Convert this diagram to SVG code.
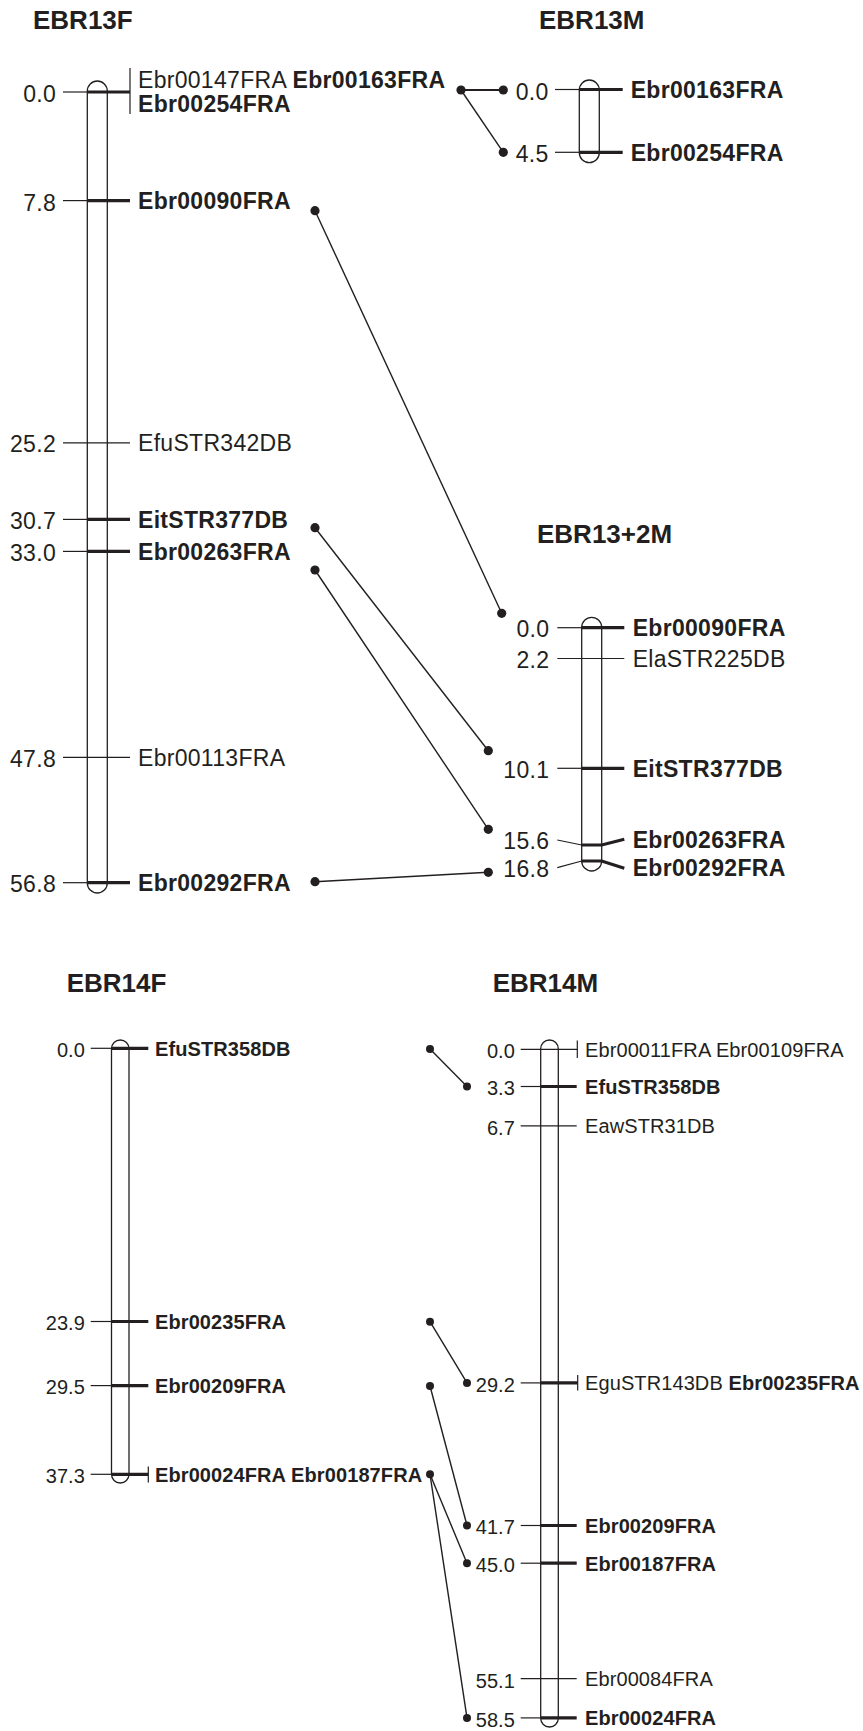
<svg xmlns="http://www.w3.org/2000/svg" width="863" height="1731" viewBox="0 0 863 1731">
  <style>
    text { font-family: "Liberation Sans", Arial, Helvetica, sans-serif; fill: #231f20; }
    .title { font-size: 26px; font-weight: bold; }
    .big { font-size: 23px; letter-spacing: 0.3px; }
    .small { font-size: 20px; letter-spacing: 0.1px; }
    .b { font-weight: bold; }
    .num { text-anchor: end; }
    .chr { fill: #ffffff; stroke: #231f20; stroke-width: 1.3; }
    .thin { stroke: #231f20; stroke-width: 1.2; fill: none; }
    .thick { stroke: #231f20; stroke-width: 3.2; fill: none; }
    .link { stroke: #231f20; stroke-width: 1.4; fill: none; }
    .dot { fill: #231f20; }
  </style>
  <rect width="863" height="1731" fill="#ffffff"/>

  <!-- Linkage group EBR13F -->
  <g id="EBR13F">
    <text class="title" x="33" y="29">EBR13F</text>
    <rect class="chr" x="87.3" y="81" width="20" height="812" rx="10"/>
    <!-- 0.0 -->
    <line class="thin" x1="63" y1="92" x2="87.3" y2="92"/>
    <line class="thick" x1="87.3" y1="92" x2="130" y2="92"/>
    <line class="thin" x1="130" y1="68" x2="130" y2="114"/>
    <text class="big num" x="56" y="101.5">0.0</text>
    <text class="big" x="138" y="87.5">Ebr00147FRA <tspan class="b">Ebr00163FRA</tspan></text>
    <text class="big b" x="138" y="112">Ebr00254FRA</text>
    <!-- 7.8 -->
    <line class="thin" x1="63" y1="200.6" x2="87.3" y2="200.6"/>
    <line class="thick" x1="87.3" y1="200.6" x2="130" y2="200.6"/>
    <text class="big num" x="56" y="210.5">7.8</text>
    <text class="big b" x="138" y="209">Ebr00090FRA</text>
    <!-- 25.2 -->
    <line class="thin" x1="63" y1="442.8" x2="130" y2="442.8"/>
    <text class="big num" x="56" y="451.5">25.2</text>
    <text class="big" x="138" y="451">EfuSTR342DB</text>
    <!-- 30.7 -->
    <line class="thin" x1="63" y1="519.4" x2="87.3" y2="519.4"/>
    <line class="thick" x1="87.3" y1="519.4" x2="130" y2="519.4"/>
    <text class="big num" x="56" y="528.5">30.7</text>
    <text class="big b" x="138" y="528">EitSTR377DB</text>
    <!-- 33.0 -->
    <line class="thin" x1="63" y1="551.4" x2="87.3" y2="551.4"/>
    <line class="thick" x1="87.3" y1="551.4" x2="130" y2="551.4"/>
    <text class="big num" x="56" y="560.5">33.0</text>
    <text class="big b" x="138" y="560">Ebr00263FRA</text>
    <!-- 47.8 -->
    <line class="thin" x1="63" y1="757.4" x2="130" y2="757.4"/>
    <text class="big num" x="56" y="766.5">47.8</text>
    <text class="big" x="138" y="766">Ebr00113FRA</text>
    <!-- 56.8 -->
    <line class="thin" x1="63" y1="882.7" x2="87.3" y2="882.7"/>
    <line class="thick" x1="87.3" y1="882.7" x2="130" y2="882.7"/>
    <text class="big num" x="56" y="892">56.8</text>
    <text class="big b" x="138" y="891">Ebr00292FRA</text>
  </g>

  <!-- Linkage group EBR13M -->
  <g id="EBR13M">
    <text class="title" x="539" y="29">EBR13M</text>
    <rect class="chr" x="579.3" y="80" width="20" height="82.7" rx="10"/>
    <line class="thin" x1="555" y1="89.5" x2="579.3" y2="89.5"/>
    <line class="thick" x1="579.3" y1="89.5" x2="622.7" y2="89.5"/>
    <text class="big num" x="548.5" y="99.5">0.0</text>
    <text class="big b" x="630.7" y="98">Ebr00163FRA</text>
    <line class="thin" x1="555" y1="152.3" x2="579.3" y2="152.3"/>
    <line class="thick" x1="579.3" y1="152.3" x2="622.7" y2="152.3"/>
    <text class="big num" x="548.5" y="162">4.5</text>
    <text class="big b" x="630.7" y="161">Ebr00254FRA</text>
  </g>

  <!-- Linkage group EBR13+2M -->
  <g id="EBR13-2M">
    <text class="title" x="537" y="543">EBR13+2M</text>
    <rect class="chr" x="581.7" y="617.3" width="20" height="253.7" rx="10"/>
    <!-- 0.0 -->
    <line class="thin" x1="557.3" y1="627.7" x2="581.7" y2="627.7"/>
    <line class="thick" x1="581.7" y1="627.7" x2="624.3" y2="627.7"/>
    <text class="big num" x="549.3" y="637">0.0</text>
    <text class="big b" x="632.7" y="636">Ebr00090FRA</text>
    <!-- 2.2 -->
    <line class="thin" x1="557.3" y1="658.5" x2="624.3" y2="658.5"/>
    <text class="big num" x="549.3" y="668">2.2</text>
    <text class="big" x="632.7" y="667">ElaSTR225DB</text>
    <!-- 10.1 -->
    <line class="thin" x1="557.3" y1="768.3" x2="581.7" y2="768.3"/>
    <line class="thick" x1="581.7" y1="768.3" x2="624.3" y2="768.3"/>
    <text class="big num" x="549.3" y="778">10.1</text>
    <text class="big b" x="632.7" y="777">EitSTR377DB</text>
    <!-- 15.6 -->
    <polyline class="thin" points="557.3,840 581.7,845"/>
    <polyline class="thick" points="581.7,845 601.7,845 624.3,839.3"/>
    <text class="big num" x="549.3" y="849">15.6</text>
    <text class="big b" x="632.7" y="848">Ebr00263FRA</text>
    <!-- 16.8 -->
    <polyline class="thin" points="557.3,867.7 581.7,861"/>
    <polyline class="thick" points="581.7,861 601.7,861 624.3,868.3"/>
    <text class="big num" x="549.3" y="877">16.8</text>
    <text class="big b" x="632.7" y="876">Ebr00292FRA</text>
  </g>

  <!-- Linkage group EBR14F -->
  <g id="EBR14F">
    <text class="title" x="66.7" y="992">EBR14F</text>
    <rect class="chr" x="111.5" y="1040" width="17.5" height="443" rx="8.75"/>
    <!-- 0.0 -->
    <line class="thin" x1="90.7" y1="1048.3" x2="111.5" y2="1048.3"/>
    <line class="thick" x1="111.5" y1="1048.3" x2="148.3" y2="1048.3"/>
    <text class="small num" x="85" y="1057">0.0</text>
    <text class="small b" x="155" y="1055.5">EfuSTR358DB</text>
    <!-- 23.9 -->
    <line class="thin" x1="90.7" y1="1321.5" x2="111.5" y2="1321.5"/>
    <line class="thick" x1="111.5" y1="1321.5" x2="148.3" y2="1321.5"/>
    <text class="small num" x="85" y="1330">23.9</text>
    <text class="small b" x="155" y="1328.7">Ebr00235FRA</text>
    <!-- 29.5 -->
    <line class="thin" x1="90.7" y1="1385.6" x2="111.5" y2="1385.6"/>
    <line class="thick" x1="111.5" y1="1385.6" x2="148.3" y2="1385.6"/>
    <text class="small num" x="85" y="1394">29.5</text>
    <text class="small b" x="155" y="1393">Ebr00209FRA</text>
    <!-- 37.3 -->
    <line class="thin" x1="90.7" y1="1474.3" x2="111.5" y2="1474.3"/>
    <line class="thick" x1="111.5" y1="1474.3" x2="148.3" y2="1474.3"/>
    <line class="thin" x1="148.3" y1="1466.5" x2="148.3" y2="1482.5"/>
    <text class="small num" x="85" y="1483">37.3</text>
    <text class="small b" x="155" y="1481.5">Ebr00024FRA Ebr00187FRA</text>
  </g>

  <!-- Linkage group EBR14M -->
  <g id="EBR14M">
    <text class="title" x="492.7" y="992">EBR14M</text>
    <rect class="chr" x="540.7" y="1040" width="17.6" height="687" rx="8.8"/>
    <!-- 0.0 -->
    <line class="thin" x1="520.7" y1="1049.3" x2="577.3" y2="1049.3"/>
    <line class="thin" x1="577.3" y1="1040.5" x2="577.3" y2="1058"/>
    <text class="small num" x="515" y="1058">0.0</text>
    <text class="small" x="585" y="1056.5">Ebr00011FRA Ebr00109FRA</text>
    <!-- 3.3 -->
    <line class="thin" x1="520.7" y1="1086.5" x2="540.7" y2="1086.5"/>
    <line class="thick" x1="540.7" y1="1086.5" x2="576.7" y2="1086.5"/>
    <text class="small num" x="515" y="1095">3.3</text>
    <text class="small b" x="585" y="1093.7">EfuSTR358DB</text>
    <!-- 6.7 -->
    <line class="thin" x1="520.7" y1="1125.9" x2="576.7" y2="1125.9"/>
    <text class="small num" x="515" y="1134.5">6.7</text>
    <text class="small" x="585" y="1133">EawSTR31DB</text>
    <!-- 29.2 -->
    <line class="thin" x1="520.7" y1="1382.9" x2="540.7" y2="1382.9"/>
    <line class="thick" x1="540.7" y1="1382.9" x2="577.7" y2="1382.9"/>
    <line class="thin" x1="577.7" y1="1375" x2="577.7" y2="1390.5"/>
    <text class="small num" x="515" y="1391.5">29.2</text>
    <text class="small" x="585" y="1390">EguSTR143DB <tspan class="b">Ebr00235FRA</tspan></text>
    <!-- 41.7 -->
    <line class="thin" x1="520.7" y1="1525.5" x2="540.7" y2="1525.5"/>
    <line class="thick" x1="540.7" y1="1525.5" x2="576.7" y2="1525.5"/>
    <text class="small num" x="515" y="1534">41.7</text>
    <text class="small b" x="585" y="1532.7">Ebr00209FRA</text>
    <!-- 45.0 -->
    <line class="thin" x1="520.7" y1="1563.2" x2="540.7" y2="1563.2"/>
    <line class="thick" x1="540.7" y1="1563.2" x2="576.7" y2="1563.2"/>
    <text class="small num" x="515" y="1572">45.0</text>
    <text class="small b" x="585" y="1570.5">Ebr00187FRA</text>
    <!-- 55.1 -->
    <line class="thin" x1="520.7" y1="1678.7" x2="576.7" y2="1678.7"/>
    <text class="small num" x="515" y="1687.5">55.1</text>
    <text class="small" x="585" y="1686">Ebr00084FRA</text>
    <!-- 58.5 -->
    <line class="thin" x1="520.7" y1="1717.9" x2="540.7" y2="1717.9"/>
    <line class="thick" x1="540.7" y1="1717.9" x2="576.7" y2="1717.9"/>
    <text class="small num" x="515" y="1726.5">58.5</text>
    <text class="small b" x="585" y="1725">Ebr00024FRA</text>
  </g>

  <!-- Connectors between shared markers -->
  <g id="connectors">
    <line class="link" x1="461" y1="90" x2="503.3" y2="90" style="stroke-width:2"/>
    <line class="link" x1="461" y1="90" x2="503.3" y2="152.3"/>
    <line class="link" x1="315" y1="210.7" x2="501.7" y2="613.3"/>
    <line class="link" x1="315" y1="527.7" x2="488.3" y2="750.7"/>
    <line class="link" x1="315" y1="570" x2="488.3" y2="829.3"/>
    <line class="link" x1="315" y1="881.7" x2="488.3" y2="872.3"/>
    <line class="link" x1="430" y1="1049" x2="467" y2="1086.5"/>
    <line class="link" x1="430" y1="1321.7" x2="467" y2="1382.9"/>
    <line class="link" x1="430" y1="1386" x2="467" y2="1525.5"/>
    <line class="link" x1="430" y1="1474.3" x2="467" y2="1563.2"/>
    <line class="link" x1="430" y1="1474.3" x2="467" y2="1717.9"/>
    <circle class="dot" cx="461" cy="90" r="4.6"/>
    <circle class="dot" cx="503.3" cy="90" r="4.6"/>
    <circle class="dot" cx="503.3" cy="152.3" r="4.6"/>
    <circle class="dot" cx="315" cy="210.7" r="4.6"/>
    <circle class="dot" cx="501.7" cy="613.3" r="4.6"/>
    <circle class="dot" cx="315" cy="527.7" r="4.6"/>
    <circle class="dot" cx="488.3" cy="750.7" r="4.6"/>
    <circle class="dot" cx="315" cy="570" r="4.6"/>
    <circle class="dot" cx="488.3" cy="829.3" r="4.6"/>
    <circle class="dot" cx="315" cy="881.7" r="4.6"/>
    <circle class="dot" cx="488.3" cy="872.3" r="4.6"/>
    <circle class="dot" cx="430" cy="1049" r="4"/>
    <circle class="dot" cx="467" cy="1086.5" r="4"/>
    <circle class="dot" cx="430" cy="1321.7" r="4"/>
    <circle class="dot" cx="467" cy="1382.9" r="4"/>
    <circle class="dot" cx="430" cy="1386" r="4"/>
    <circle class="dot" cx="467" cy="1525.5" r="4"/>
    <circle class="dot" cx="430" cy="1474.3" r="4"/>
    <circle class="dot" cx="467" cy="1563.2" r="4"/>
    <circle class="dot" cx="467" cy="1717.9" r="4"/>
  </g>
</svg>
